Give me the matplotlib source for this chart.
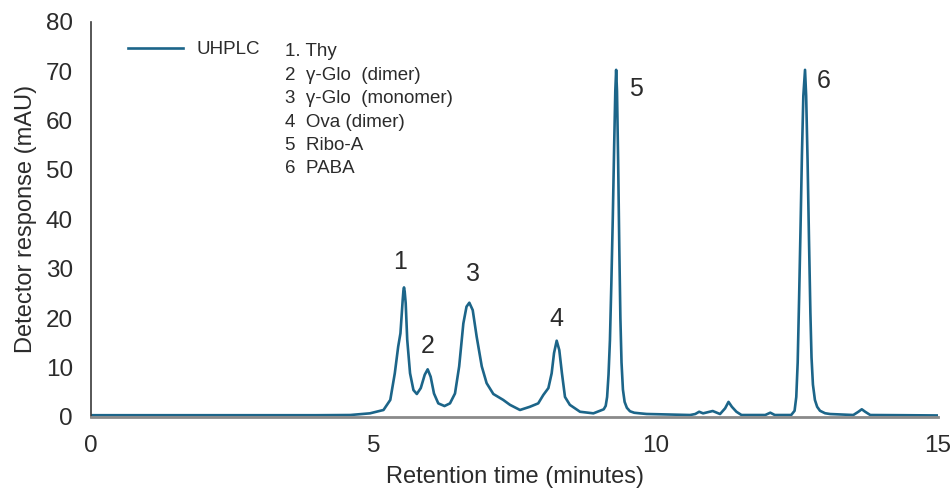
import matplotlib
matplotlib.use("Agg")
import matplotlib.pyplot as plt
from matplotlib.lines import Line2D

plt.rcParams['font.family'] = ['Liberation Sans', 'DejaVu Sans']

# Chromatogram trace: retention time (min) and detector response (mAU)
time_min = [0.00, 1.00, 2.00, 3.00, 4.00, 4.59, 4.94, 5.18, 5.30, 5.38, 5.44, 5.48,
            5.52, 5.533, 5.543, 5.555, 5.573, 5.60, 5.65, 5.71, 5.77, 5.84, 5.91, 5.962,
            6.015, 6.074, 6.15, 6.26, 6.357, 6.446, 6.52, 6.594, 6.65, 6.70, 6.76, 6.83,
            6.92, 7.006, 7.125, 7.30, 7.42, 7.597, 7.77, 7.92, 8.01, 8.10, 8.158, 8.20,
            8.247, 8.293, 8.34, 8.394, 8.48, 8.66, 8.897, 9.014, 9.08, 9.115, 9.14, 9.165,
            9.19, 9.215, 9.24, 9.265, 9.285, 9.30, 9.315, 9.335, 9.356, 9.375, 9.395, 9.42,
            9.45, 9.49, 9.545, 9.62, 9.72, 9.84, 10.61, 10.70, 10.77, 10.84, 11.01, 11.14,
            11.23, 11.29, 11.35, 11.43, 11.52, 11.94, 12.03, 12.11, 12.40, 12.46, 12.49,
            12.515, 12.54, 12.565, 12.59, 12.615, 12.645, 12.665, 12.69, 12.715, 12.74,
            12.76, 12.785, 12.82, 12.86, 12.91, 13.00, 13.09, 13.50, 13.59, 13.65, 13.71,
            13.80, 14.40, 15.00]
response_mau = [0.30, 0.30, 0.30, 0.30, 0.30, 0.34, 0.68, 1.36, 3.4, 8.8, 14.2, 16.9,
                23.7, 25.6, 26.2, 25.4, 23.0, 15.6, 8.8, 5.4, 4.6, 5.8, 8.5, 9.6,
                8.1, 4.7, 2.7, 2.16, 2.7, 4.7, 10.2, 18.9, 22.3, 23.1, 21.6, 16.2,
                10.2, 6.8, 4.6, 3.4, 2.4, 1.36, 2.0, 2.7, 4.4, 5.8, 8.8, 12.9,
                15.4, 13.5, 8.8, 4.0, 2.4, 1.0, 0.68, 1.2, 1.5, 2.2, 4.0, 8.5,
                15.5, 27.0, 40.0, 55.0, 66.0, 70.3, 66.0, 52.0, 34.0, 20.0, 11.0, 5.5,
                3.0, 1.8, 1.1, 0.8, 0.68, 0.55, 0.34, 0.54, 1.0, 0.68, 1.15, 0.54,
                1.7, 3.0, 2.0, 1.0, 0.34, 0.34, 0.81, 0.34, 0.34, 1.2, 4.0,
                11.0, 24.0, 38.0, 53.0, 65.0, 70.3, 65.0, 52.0, 36.0, 21.0,
                12.0, 6.5, 3.4, 2.0, 1.2, 0.7, 0.54, 0.34, 1.0, 1.5, 1.0,
                0.34, 0.30, 0.25]

# Peak numbers and where their labels sit (time, response)
peak_ids = ["1", "2", "3", "4", "5", "6"]
peak_label_time = [5.47, 5.97, 6.76, 8.25, 9.65, 12.98]
peak_label_resp = [31.4, 14.3, 28.9, 19.8, 66.4, 68.0]

compounds = ["1. Thy", "2  \u03b3-Glo  (dimer)", "3  \u03b3-Glo  (monomer)",
             "4  Ova (dimer)", "5  Ribo-A", "6  PABA"]

x_ticks = [0, 5, 10, 15]
y_ticks = [0, 10, 20, 30, 40, 50, 60, 70, 80]

trace_color = "#1c6589"
text_color = "#2b2b2b"

fig = plt.figure(figsize=(9.52, 4.95), dpi=100)
ax = fig.add_axes([0.0956, 0.1582, 0.8897, 0.7974])

ax.plot(time_min, response_mau, color=trace_color, lw=1.9,
        solid_joinstyle="round", solid_capstyle="round")

ax.set_xlim(0, 15)
ax.set_ylim(0, 80)
ax.set_xticks(x_ticks)
ax.set_yticks(y_ticks)
ax.tick_params(length=0, labelsize=17.5, colors=text_color)
ax.tick_params(axis="y", pad=13)
ax.tick_params(axis="x", pad=13)

for s in ("top", "right"):
    ax.spines[s].set_visible(False)
ax.spines["left"].set_color("#3a3a3a")
ax.spines["left"].set_linewidth(1.2)
ax.spines["bottom"].set_color("#8a8a8a")
ax.spines["bottom"].set_linewidth(2.0)

ax.set_xlabel("Retention time (minutes)", fontsize=17, color=text_color, labelpad=7)
ax.set_ylabel("Detector response (mAU)", fontsize=17, color=text_color, labelpad=6)

for pid, tx, ty in zip(peak_ids, peak_label_time, peak_label_resp):
    ax.text(tx, ty, pid, fontsize=18, color=text_color, ha="center", va="center")

handle = Line2D([], [], color=trace_color, lw=1.9)
ax.legend([handle], ["UHPLC"], loc="upper left", bbox_to_anchor=(0.0437, 0.951),
          frameon=False, fontsize=13.5, handlelength=2.95, handletextpad=0.7,
          borderpad=0, borderaxespad=0, labelcolor=text_color)

step = 23.4 / (0.7974 * 495)
for i, name in enumerate(compounds):
    ax.text(0.229, 0.924 - i * step, name, transform=ax.transAxes,
            fontsize=13.5, color=text_color, ha="left", va="center")

fig.savefig("out.png", dpi=100)
